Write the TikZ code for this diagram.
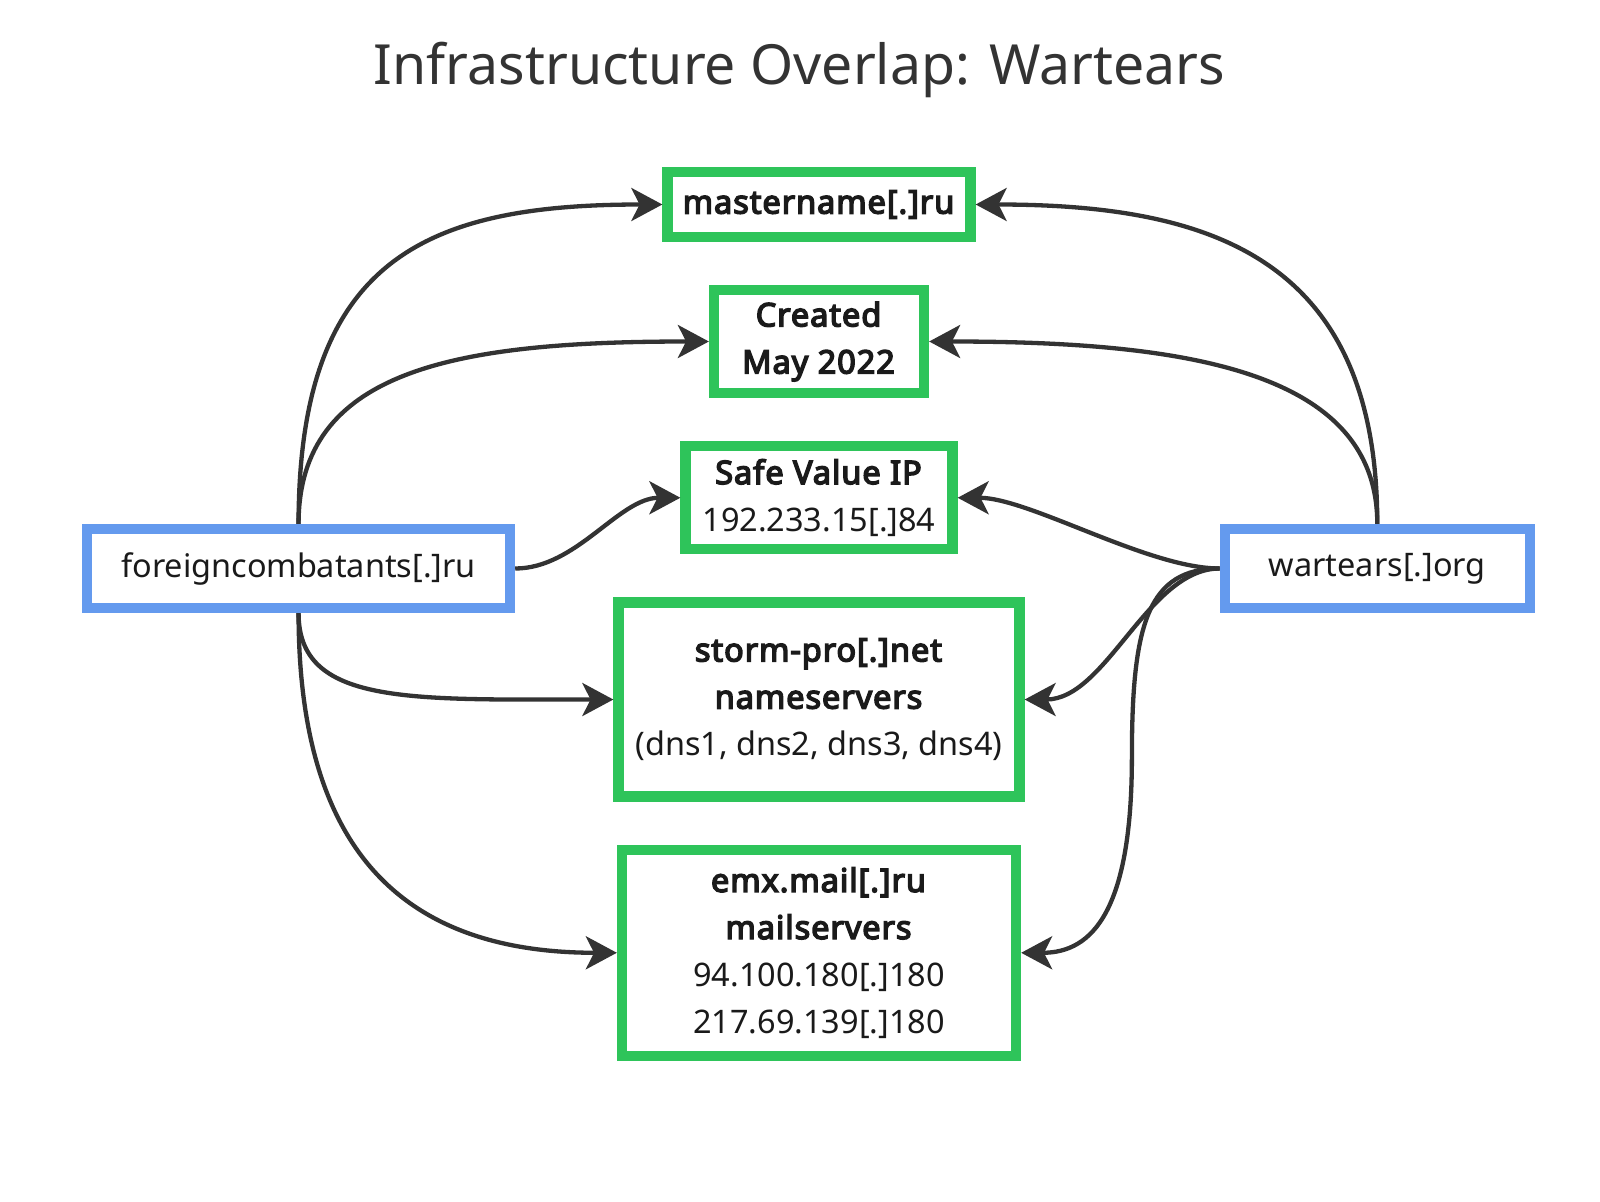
\documentclass[tikz,border=0pt]{standalone}
\usepackage{fontspec}
\setmainfont{Noto Sans}[BoldFont={Noto Sans}, BoldFeatures={FakeBold=4.5, LetterSpace=3}]
\usepackage{tikz}
\usetikzlibrary{positioning}
\usetikzlibrary{arrows.meta}

\definecolor{hitgreen}{RGB}{46,196,90}
\definecolor{seedblue}{RGB}{100,154,238}
\definecolor{linkgray}{RGB}{51,51,51}
\definecolor{inkgray}{RGB}{26,26,26}

\tikzset{
    hitbox/.style={draw=hitgreen, line width=0.1023cm, fill=white, align=center,
        inner sep=0pt, text=inkgray, font=\fontsize{9.23pt}{13.4pt}\selectfont},
    seedbox/.style={draw=seedblue, line width=0.1023cm, fill=white, align=center,
        inner sep=0pt, text=inkgray, font=\fontsize{9.23pt}{13.4pt}\selectfont,
        minimum height=0.79cm},
    link/.style={draw=linkgray, line width=0.043cm,
        -{Stealth[length=0.31cm, width=0.33cm, inset=0.082cm]}},
}

\begin{document}
\begin{tikzpicture}[x=0.010225cm, y=-0.010225cm, node distance=0.43cm]
    \useasboundingbox (0,0) rectangle (1564.8,1175.5);
    \node[text=linkgray, font=\fontsize{15.75pt}{19pt}\selectfont] (title) at (782,68)
        {Infrastructure Overlap: Wartears};

    \node[hitbox, minimum width=3.03cm, minimum height=0.645cm] (mn) at (801,200)
        {\textbf{mastername[.]ru}};
    \node[hitbox, minimum width=2.10cm, minimum height=1.03cm, below=of mn] (cr)
        {\textbf{Created}\\\textbf{May 2022}};
    \node[hitbox, minimum width=2.67cm, minimum height=1.03cm, below=of cr] (sv)
        {\textbf{Safe Value IP}\\192.233.15[.]84};
    \node[hitbox, minimum width=4.01cm, minimum height=1.94cm, below=of sv] (ns)
        {\textbf{storm-pro[.]net}\\\textbf{nameservers}\\(dns1, dns2, dns3, dns4)};
    \node[hitbox, minimum width=3.94cm, minimum height=2.06cm, below=of ns] (mx)
        {\textbf{emx.mail[.]ru}\\\textbf{mailservers}\\94.100.180[.]180\\217.69.139[.]180};

    \node[seedbox, minimum width=4.23cm] (fc) at (292,556) {foreigncombatants[.]ru};
    \node[seedbox, minimum width=3.05cm] (wt) at (1347,556) {wartears[.]org};
    \coordinate (wtbend) at (1107,740);

    \draw[link] (fc.north) .. controls +(0,-260) and +(-230,0) .. (mn.west);
    \draw[link] (fc.north) .. controls +(0,-150) and +(-250,0) .. (cr.west);
    \draw[link] (fc.east) .. controls +(60,0) and +(-60,0) .. (sv.west);
    \draw[link] (fc.south) .. controls +(0,90) and +(-200,0) .. (ns.west);
    \draw[link] (fc.south) .. controls +(0,220) and +(-220,0) .. (mx.west);

    \draw[link] (wt.north) .. controls +(0,-260) and +(230,0) .. (mn.east);
    \draw[link] (wt.north) .. controls +(0,-150) and +(250,0) .. (cr.east);
    \draw[link] (wt.west) .. controls +(-70,0) and +(70,0) .. (sv.east);
    \draw[link] (wt.west) .. controls +(-70,0) and +(80,0) .. (ns.east);
    \draw[link] (wt.west) .. controls +(-70,0) and +(0,-130) .. (wtbend)
        .. controls +(0,150) and +(70,0) .. (mx.east);
\end{tikzpicture}
\end{document}
